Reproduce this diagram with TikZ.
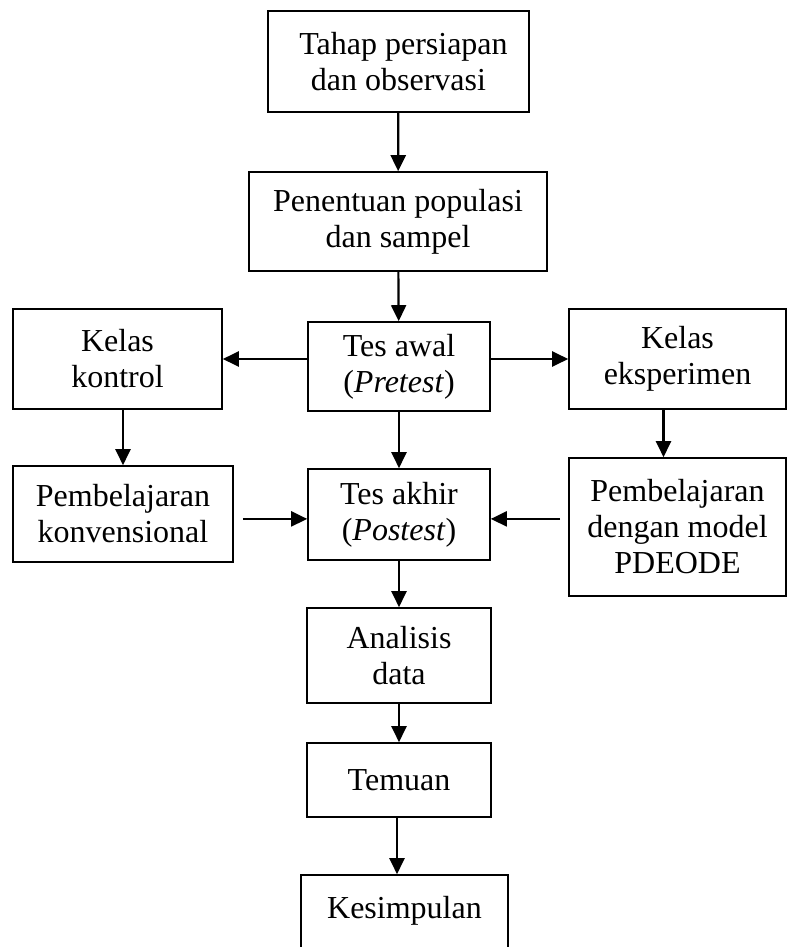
\documentclass[tikz,border=0pt]{standalone}
\usepackage{fontspec}
\setmainfont{Liberation Serif}
\usetikzlibrary{arrows.meta}
\begin{document}
\begin{tikzpicture}[x=0.5pt,y=-0.5pt,
  box/.style={draw,line width=0.8pt,inner sep=0pt,align=center,
    font=\fontsize{16}{18}\selectfont},
  flow/.style={line width=1.1pt,-{Triangle[length=8pt,width=7.5pt]}}]
\useasboundingbox (0,0) rectangle (787,947);
% main column
\node[box,minimum width=130.5pt,minimum height=50.5pt] (persiapan) at (398.5,61.5) {\hspace*{5pt}Tahap persiapan\\dan observasi};
\node[box,minimum width=149pt,minimum height=49.5pt] (populasi) at (398,221.5) {Penentuan populasi\\dan sampel};
\node[box,minimum width=91pt,minimum height=44.5pt] (pretest) at (399,366.5) {Tes awal\\(\textit{Pretest})};
\node[box,minimum width=91pt,minimum height=45.5pt] (postest) at (399,514.5) {Tes akhir\\(\textit{Postest})};
\node[box,minimum width=92pt,minimum height=47.5pt] (analisis) at (399,655.5) {Analisis\\data};
\node[box,minimum width=92pt,minimum height=37pt] (temuan) at (399,780) {Temuan};
\node[box,minimum width=103.5pt,minimum height=50pt] (simpulan) at (404.5,925) {Kesimpulan\\\mbox{}};
% side columns
\node[box,minimum width=104.5pt,minimum height=50pt] (kontrol) at (117.5,359) {Kelas\\kontrol};
\node[box,minimum width=110pt,minimum height=48pt] (konvensional) at (123,514) {Pembelajaran\\konvensional};
\node[box,minimum width=108.5pt,minimum height=50pt] (eksperimen) at (677.5,359) {Kelas\\eksperimen};
\node[box,minimum width=108.5pt,minimum height=69pt] (pdeode) at (677.5,527) {Pembelajaran\\dengan model\\PDEODE};
% arrows
\draw[flow] (persiapan) -- (populasi);
\draw[flow] (populasi) -- (pretest);
\draw[flow] (pretest.west |- kontrol.east) -- (kontrol.east);
\draw[flow] (pretest.east |- eksperimen.west) -- (eksperimen.west);
\draw[flow] (konvensional.north |- kontrol.south) -- (konvensional.north);
\draw[flow] ([xshift=-7pt]eksperimen.south) -- ([xshift=-7pt]pdeode.north);
\draw[flow] (pretest) -- (postest);
\draw[flow] ([xshift=4.5pt,yshift=-2.2pt]konvensional.east |- postest.west) -- ([yshift=-2.2pt]postest.west);
\draw[flow] ([xshift=-4pt,yshift=-2.2pt]pdeode.west |- postest.east) -- ([yshift=-2.2pt]postest.east);
\draw[flow] (postest) -- (analisis);
\draw[flow] (analisis) -- (temuan);
\draw[flow] ([xshift=-1pt]temuan.south) -- ([xshift=-1pt]temuan.south |- simpulan.north);
\end{tikzpicture}
\end{document}
